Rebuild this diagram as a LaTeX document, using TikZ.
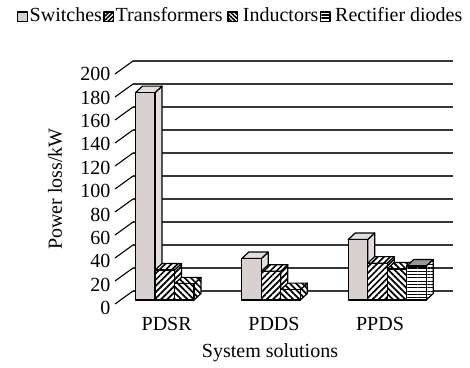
\documentclass[tikz,border=0pt]{standalone}
\usepackage{fontspec}
\setmainfont{Liberation Serif}
\usetikzlibrary{patterns.meta}
\definecolor{swf}{RGB}{216,209,207}
\definecolor{sws}{RGB}{228,223,221}
\definecolor{gridc}{RGB}{55,55,55}
\definecolor{rtop}{RGB}{150,150,150}
\tikzset{
  lbl/.style={font=\fontsize{20}{23}\selectfont, inner sep=0pt},
  gridline/.style={draw=gridc, line width=1.2pt},
  tickline/.style={draw=black, line width=1.1pt},
  barline/.style={draw=black, line width=1.2pt, line join=round},
  swface/.style={barline, fill=swf},
  swside/.style={barline, fill=sws},
  trface/.style={barline, preaction={fill=white}, pattern={Lines[angle=45,distance=4.4pt,line width=1.7pt]}},
  inface/.style={barline, preaction={fill=white}, pattern={Lines[angle=-45,distance=4.4pt,line width=1.7pt]}},
  rdface/.style={barline, preaction={fill=white}, pattern={Lines[angle=0,distance=3.3pt,line width=1.1pt]}},
  rdtop/.style={barline, fill=rtop},
  legbox/.style={line width=1.4pt},
  trleg/.style={barline, legbox, preaction={fill=white}, pattern={Lines[angle=45,distance=3pt,line width=1.6pt]}},
  inleg/.style={barline, legbox, preaction={fill=white}, pattern={Lines[angle=-45,distance=3pt,line width=1.6pt]}},
  rdleg/.style={barline, legbox, preaction={fill=white}, pattern={Lines[angle=0,distance=3.2pt,line width=1.6pt]}},
}
\newcommand{\cbar}[5]{%
  \path[#4] ({#1+19.5},300) -- ({#1+26.5},293.5) -- ({#1+26.5},{293.5-1.152*#2}) -- ({#1+19.5},{300-1.152*#2}) -- cycle;
  \path[#5] (#1,{300-1.152*#2}) -- ({#1+7},{293.5-1.152*#2}) -- ({#1+26.5},{293.5-1.152*#2}) -- ({#1+19.5},{300-1.152*#2}) -- cycle;
  \path[#3] (#1,300) rectangle ({#1+19.5},{300-1.152*#2});
}
\begin{document}
\begin{tikzpicture}[x=1pt,y=-1pt]
\useasboundingbox (0,0) rectangle (470,367);
% legend
\path[swface, legbox] (17.3,12) rectangle (27.3,21.5);
\node[lbl, anchor=base west] (lsw) at (29.5,21.7) {Switches};
\path[trleg] (104,12) rectangle (113.5,21.5);
\node[lbl, anchor=base west] (ltr) at (115.5,21.7) {Transformers};
\path[inleg] (228,12) rectangle (237.5,21.5);
\node[lbl, anchor=base west] (lin) at (242.7,21.7) {Inductors};
\path[rdleg] (320.5,12) rectangle (330,21.5);
\node[lbl, anchor=base west] (lrd) at (335,21.7) {Rectifier diodes};
% grid and ticks
\foreach \k [evaluate=\k as \v using int(20*\k)] in {0,...,10} {
  \draw[gridline] (133,{291-23*\k}) -- (453,{291-23*\k});
  \draw[tickline] (115,{304-23*\k}) -- (133,{291-23*\k});
  \node[lbl, anchor=base east] (t\k) at (110.5,{314.7-23.4*\k}) {\v};
}
% bars
\cbar{135.5}{180}{swface}{swside}{swside}
\cbar{155}{26}{trface}{trface}{trface}
\cbar{174.5}{14}{inface}{inface}{inface}
\cbar{241.8}{36}{swface}{swside}{swside}
\cbar{261.3}{25}{trface}{trface}{trface}
\cbar{280.8}{9}{inface}{inface}{inface}
\cbar{348.2}{52.5}{swface}{swside}{swside}
\cbar{367.7}{32}{trface}{trface}{trface}
\cbar{387.2}{27}{inface}{inface}{inface}
\cbar{406.7}{29.5}{rdface}{rdface}{rdtop}
% axis labels
\node[lbl] (c1) at (166.7,324) {PDSR};
\node[lbl] (c2) at (274,324) {PDDS};
\node[lbl] (c3) at (380,324) {PPDS};
\node[lbl] (xt) at (270,353) {System solutions};
\node[lbl, rotate=90] (yt) at (55,189) {Power loss/kW};
\end{tikzpicture}
\end{document}
